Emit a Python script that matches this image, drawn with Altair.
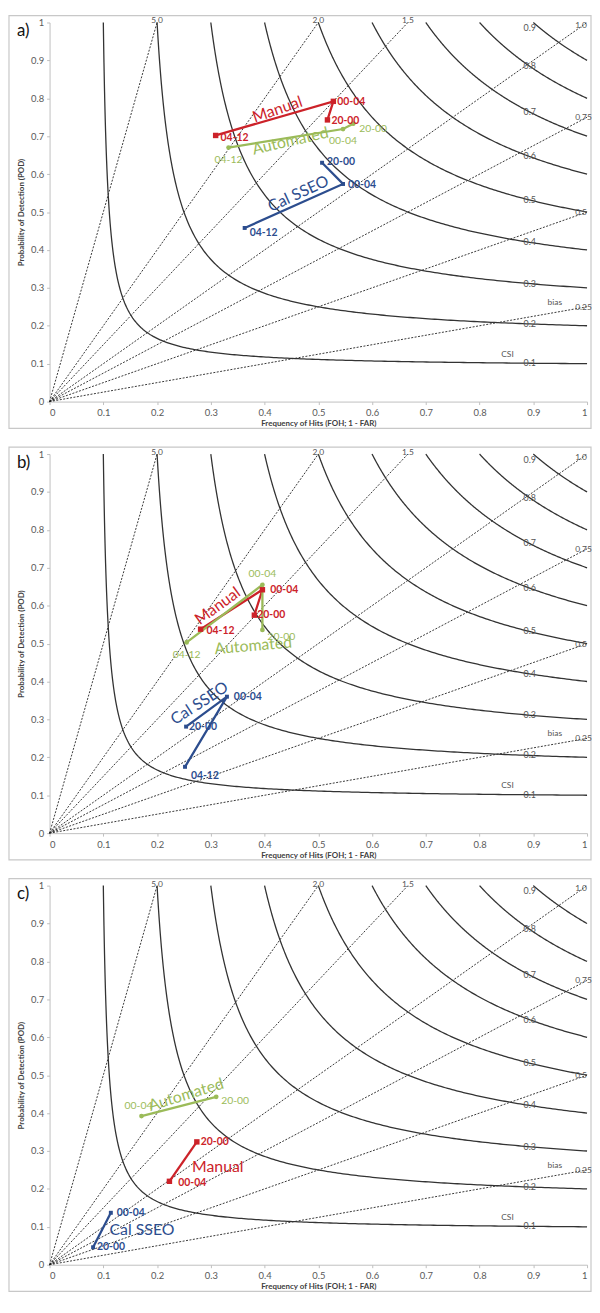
import altair as alt
import numpy as np
import pandas as pd

# ---------------- data ----------------
TICKS = [0, 0.1, 0.2, 0.3, 0.4, 0.5, 0.6, 0.7, 0.8, 0.9, 1]
CSI_LEVELS = [0.1, 0.2, 0.3, 0.4, 0.5, 0.6, 0.7, 0.8, 0.9]
BIAS_LEVELS = [5.0, 2.0, 1.5, 1.0, 0.75, 0.5, 0.25]
BIAS_TEXT = ["5.0", "2.0", "1.5", "1.0", "0.75", "0.5", "0.25"]

SERIES = ["Manual", "Automated", "Cal SSEO"]
COLORS = ["#CC2229", "#9BBB59", "#2C4D8E"]
PANEL_TAGS = ["a)", "b)", "c)"]

# panel a (order of connection: 04-12 -> 00-04 -> 20-00)
A_PERIODS = ["04-12", "00-04", "20-00"]
A_MANUAL_FOH = [0.309, 0.528, 0.517]
A_MANUAL_POD = [0.702, 0.792, 0.743]
A_AUTO_FOH = [0.333, 0.546, 0.565]
A_AUTO_POD = [0.670, 0.719, 0.733]
A_CAL_FOH = [0.363, 0.546, 0.507]
A_CAL_POD = [0.458, 0.574, 0.630]

# panel b
B_PERIODS = ["04-12", "00-04", "20-00"]
B_MANUAL_FOH = [0.281, 0.396, 0.381]
B_MANUAL_POD = [0.538, 0.642, 0.575]
B_AUTO_FOH = [0.255, 0.396, 0.396]
B_AUTO_POD = [0.503, 0.655, 0.536]
B_CAL_FOH = [0.252, 0.330, 0.254]
B_CAL_POD = [0.175, 0.360, 0.281]

# panel c
C_PERIODS = ["00-04", "20-00"]
C_MANUAL_FOH = [0.223, 0.274]
C_MANUAL_POD = [0.220, 0.324]
C_AUTO_FOH = [0.171, 0.310]
C_AUTO_POD = [0.392, 0.443]
C_CAL_FOH = [0.114, 0.081]
C_CAL_POD = [0.137, 0.046]

# point-label offsets in pixels (dx, dy) and alignment
A_MANUAL_OFF = [(5, 3, "left"), (4, 1, "left"), (4, 1, "left")]
A_AUTO_OFF = [(0, 13, "center"), (0, 12, "center"), (6, 5, "left")]
A_CAL_OFF = [(5, 5, "left"), (5, 1, "left"), (5, -1, "left")]
B_MANUAL_OFF = [(6, 2, "left"), (8, 0, "left"), (3, 0, "left")]
B_AUTO_OFF = [(0, 13, "center"), (0, -11, "center"), (5, 7, "left")]
B_CAL_OFF = [(6, 9, "left"), (7, 0, "left"), (3, 0, "left")]
C_MANUAL_OFF = [(9, 2, "left"), (4, 0, "left")]
C_AUTO_OFF = [(-3, -10, "center"), (5, 4, "left")]
C_CAL_OFF = [(6, 0, "left"), (4, 0, "left")]

# series name annotations (FOH, POD, angle) in SERIES order
A_NAME_X = [0.424, 0.448, 0.463]
A_NAME_Y = [0.770, 0.687, 0.548]
A_NAME_ANGLE = [341, 347, 335]
B_NAME_X = [0.313, 0.379, 0.279]
B_NAME_Y = [0.599, 0.494, 0.342]
B_NAME_ANGLE = [324, 355, 327]
C_NAME_X = [0.313, 0.254, 0.172]
C_NAME_Y = [0.258, 0.448, 0.091]
C_NAME_ANGLE = [0, 343, 0]

PANELS = [
    dict(periods=A_PERIODS,
         data=[(A_MANUAL_FOH, A_MANUAL_POD, A_MANUAL_OFF),
               (A_AUTO_FOH, A_AUTO_POD, A_AUTO_OFF),
               (A_CAL_FOH, A_CAL_POD, A_CAL_OFF)],
         names=(A_NAME_X, A_NAME_Y, A_NAME_ANGLE)),
    dict(periods=B_PERIODS,
         data=[(B_MANUAL_FOH, B_MANUAL_POD, B_MANUAL_OFF),
               (B_AUTO_FOH, B_AUTO_POD, B_AUTO_OFF),
               (B_CAL_FOH, B_CAL_POD, B_CAL_OFF)],
         names=(B_NAME_X, B_NAME_Y, B_NAME_ANGLE)),
    dict(periods=C_PERIODS,
         data=[(C_MANUAL_FOH, C_MANUAL_POD, C_MANUAL_OFF),
               (C_AUTO_FOH, C_AUTO_POD, C_AUTO_OFF),
               (C_CAL_FOH, C_CAL_POD, C_CAL_OFF)],
         names=(C_NAME_X, C_NAME_Y, C_NAME_ANGLE)),
]

W, H = 543, 383
FONT = "Lato"

# ---------------- background isolines ----------------
rows = []
t = np.linspace(0, 1, 220)
for c in CSI_LEVELS:
    sr = c + (1 - c) * t ** 2
    pod = 1.0 / (1.0 / c - 1.0 / sr + 1.0)
    for s, p in zip(sr, pod):
        rows.append(dict(csi=c, x=float(s), y=float(min(p, 1.0))))
csi_df = pd.DataFrame(rows)


def csi_pod(c, sr):
    return 1.0 / (1.0 / c - 1.0 / sr + 1.0)


csi_lab = pd.DataFrame(dict(
    x=[0.893] * len(CSI_LEVELS),
    y=[min(csi_pod(c, 0.893), 0.985) for c in CSI_LEVELS],
    text=[str(c) for c in CSI_LEVELS]))

bias_rows = []
for b in BIAS_LEVELS:
    bias_rows.append(dict(b=b, x=0.0, y=0.0))
    if b >= 1:
        bias_rows.append(dict(b=b, x=1.0 / b, y=1.0))
    else:
        bias_rows.append(dict(b=b, x=1.0, y=b))
bias_df = pd.DataFrame(bias_rows)

bias_top = pd.DataFrame(dict(
    x=[1.0 / b for b in BIAS_LEVELS if b > 1],
    y=[1.0 for b in BIAS_LEVELS if b > 1],
    text=[s for b, s in zip(BIAS_LEVELS, BIAS_TEXT) if b > 1]))
bias_side = pd.DataFrame(dict(
    x=[0.978 for b in BIAS_LEVELS if b <= 1],
    y=[min(b, 0.993) for b in BIAS_LEVELS if b <= 1],
    text=[s for b, s in zip(BIAS_LEVELS, BIAS_TEXT) if b <= 1]))

# ---------------- encodings ----------------
x_axis = alt.Axis(values=TICKS, format="~g", title="Frequency of Hits (FOH; 1 - FAR)",
                  grid=False, domainColor="#BFBFBF", tickColor="#BFBFBF", tickSize=3,
                  labelColor="#595959", labelFontSize=9.5, labelFont=FONT, labelPadding=3,
                  titleFont=FONT, titleFontSize=8, titleFontWeight="bold",
                  titleColor="#404040", titlePadding=3)
y_axis = alt.Axis(values=TICKS, format="~g", title="Probability of Detection (POD)",
                  grid=False, domainColor="#BFBFBF", tickColor="#BFBFBF", tickSize=3,
                  labelColor="#595959", labelFontSize=9.5, labelFont=FONT, labelPadding=3,
                  titleFont=FONT, titleFontSize=8, titleFontWeight="bold",
                  titleColor="#404040", titlePadding=5)
SC = alt.Scale(domain=[0, 1], nice=False, zero=False)


def X(f):
    return alt.X(f, type="quantitative", scale=SC, axis=x_axis)


def Y(f):
    return alt.Y(f, type="quantitative", scale=SC, axis=y_axis)


color_enc = alt.Color("series:N", scale=alt.Scale(domain=SERIES, range=COLORS), legend=None)


def make_panel(k):
    p = PANELS[k]
    pts = []
    for si, (fx, fy, offs) in enumerate(p["data"]):
        for i, (xx, yy, o) in enumerate(zip(fx, fy, offs)):
            pts.append(dict(series=SERIES[si], i=i, x=xx, y=yy, period=p["periods"][i],
                            lx=xx + o[0] / W, ly=yy - o[1] / H, align=o[2],
                            bold="bold" if si != 1 else "normal"))
    pdf = pd.DataFrame(pts)
    nx, ny, na = p["names"]
    ndf = pd.DataFrame(dict(series=SERIES, x=nx, y=ny, angle=na))

    frame = alt.Chart(alt.Data(values=[{}])).mark_rect(
        filled=False, stroke="#C8C8C8", strokeWidth=1.2).encode(
        x=alt.value(-41), x2=alt.value(547), y=alt.value(-7), y2=alt.value(410))

    bias_lines = alt.Chart(bias_df).mark_line(
        color="#222222", strokeWidth=0.9, strokeDash=[2, 1.5]).encode(
        x=X("x"), y=Y("y"), detail="b:N")

    csi_lines = alt.Chart(csi_df).mark_line(color="#333333", strokeWidth=1.3).encode(
        x=X("x"), y=Y("y"), detail="csi:N")

    csi_text = alt.Chart(csi_lab).mark_text(
        align="left", baseline="middle", fontSize=9, font=FONT, color="#555555", dx=-6).encode(
        x=X("x"), y=Y("y"), text="text:N")

    top_text = alt.Chart(bias_top).mark_text(
        align="center", baseline="bottom", fontSize=8.5, font=FONT, color="#555555", dy=3).encode(
        x=X("x"), y=Y("y"), text="text:N")
    side_text = alt.Chart(bias_side).mark_text(
        align="left", baseline="middle", fontSize=8.5, font=FONT, color="#555555").encode(
        x=X("x"), y=Y("y"), text="text:N")

    misc = alt.Chart(pd.DataFrame(dict(x=[0.852, 0.94], y=[0.113, 0.25], text=["CSI", "bias"]))
                     ).mark_text(align="center", baseline="bottom", fontSize=8.5, font=FONT,
                                 color="#555555").encode(x=X("x"), y=Y("y"), text="text:N")

    lines = alt.Chart(pdf).mark_line(strokeWidth=2.3).encode(
        x=X("x"), y=Y("y"), color=color_enc, detail="series:N", order="i:Q")

    points = alt.Chart(pdf).mark_point(filled=True, opacity=1).encode(
        x=X("x"), y=Y("y"), color=color_enc,
        shape=alt.Shape("series:N", scale=alt.Scale(domain=SERIES, range=["square", "circle", "square"]), legend=None),
        size=alt.Size("series:N", scale=alt.Scale(domain=SERIES, range=[30, 16, 30]), legend=None))

    lab_layers = []
    for al in ["left", "center"]:
        for wt in ["bold", "normal"]:
            lab_layers.append(
                alt.Chart(pdf).transform_filter(
                    (alt.datum.align == al) & (alt.datum.bold == wt)).mark_text(
                    align=al, baseline="middle", fontSize=10.5, font=FONT, fontWeight=wt).encode(
                    x=X("lx"), y=Y("ly"), text="period:N", color=color_enc))

    names = alt.Chart(ndf).mark_text(
        align="center", baseline="middle", fontSize=16, font=FONT).encode(
        x=X("x"), y=Y("y"), text="series:N", color=color_enc,
        angle=alt.Angle("angle:Q", scale=None))

    tag = alt.Chart(alt.Data(values=[{}])).mark_text(
        align="left", baseline="middle", fontSize=17, font=FONT, color="#111111",
        text=PANEL_TAGS[k]).encode(x=alt.value(-33), y=alt.value(9))

    return alt.layer(frame, bias_lines, csi_lines, csi_text, top_text, side_text, misc,
                     lines, points, *lab_layers, names, tag).properties(width=W, height=H)


chart = alt.vconcat(make_panel(0), make_panel(1), make_panel(2), spacing=53, bounds="flush"
                    ).properties(padding={"left": 0, "top": 0, "right": 0, "bottom": 0}
                    ).configure_view(stroke=None)

chart.save("out.html", embed_options={"renderer": "svg", "actions": False})
